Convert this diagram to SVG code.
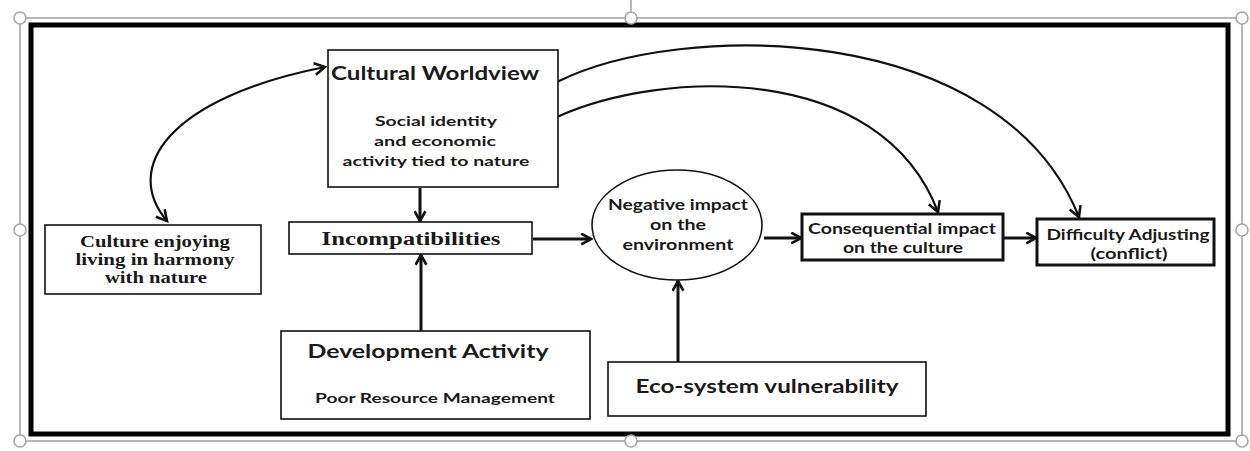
<svg xmlns="http://www.w3.org/2000/svg" width="1250" height="451" viewBox="0 0 1250 451">
<style>
.box{fill:#fff;stroke:#111;stroke-width:1.6}
.boxb{fill:#fff;stroke:#111;stroke-width:3}
.sans{font-family:Lato,"Open Sans","DejaVu Sans",sans-serif;font-weight:bold;fill:#1a1a1a;text-anchor:middle}
.serif{font-family:"Liberation Serif","DejaVu Serif",serif;font-weight:bold;fill:#1a1a1a;text-anchor:middle}
.arr{fill:none;stroke:#111;stroke-width:3}
.crv{fill:none;stroke:#111;stroke-width:2.2}
.handle{fill:#fff;stroke:#a6a6a6;stroke-width:1.6}
</style>
<defs>
<marker id="ah" viewBox="0 0 12 12" refX="10" refY="6" markerWidth="13" markerHeight="13" markerUnits="userSpaceOnUse" orient="auto-start-reverse">
<path d="M1,1 L10,6 L1,11" fill="none" stroke="#111" stroke-width="2.4"/>
</marker>
<marker id="ahc" viewBox="0 0 12 12" refX="10" refY="6" markerWidth="14" markerHeight="14" markerUnits="userSpaceOnUse" orient="auto-start-reverse">
<path d="M1,1 L10,6 L1,11" fill="none" stroke="#111" stroke-width="2.2"/>
</marker>
</defs>
<rect width="1250" height="451" fill="#fff"/>
<g id="frame">
<rect x="20" y="18" width="1222" height="423" fill="none" stroke="#a6a6a6" stroke-width="1.6"/>
<line x1="631" y1="0" x2="631" y2="12" stroke="#a6a6a6" stroke-width="1.6"/>
<rect x="31" y="25" width="1197" height="409" fill="none" stroke="#000" stroke-width="5"/>
<circle class="handle" cx="20" cy="18" r="6"/>
<circle class="handle" cx="631" cy="18" r="6"/>
<circle class="handle" cx="1242" cy="18" r="6"/>
<circle class="handle" cx="20" cy="230" r="6"/>
<circle class="handle" cx="1242" cy="230" r="6"/>
<circle class="handle" cx="20" cy="441" r="6"/>
<circle class="handle" cx="631" cy="441" r="6"/>
<circle class="handle" cx="1242" cy="441" r="6"/>
</g>
<g id="connectors">
<path class="crv" d="M167,221 C122,168 168,98 325,67" marker-start="url(#ahc)" marker-end="url(#ahc)"/>
<path class="crv" d="M557,82 C680,20 1000,20 1079,217" marker-end="url(#ahc)"/>
<path class="crv" d="M557,117 C660,70 880,60 938,212" marker-end="url(#ahc)"/>
<line class="arr" x1="420" y1="188" x2="420" y2="221" marker-end="url(#ah)"/>
<line class="arr" x1="421" y1="331" x2="421" y2="255" marker-end="url(#ah)"/>
<line class="arr" x1="533" y1="239" x2="591" y2="239" marker-end="url(#ah)"/>
<line class="arr" x1="678" y1="362" x2="678" y2="281" marker-end="url(#ah)"/>
<line class="arr" x1="764" y1="238" x2="801" y2="238" marker-end="url(#ah)"/>
<line class="arr" x1="1004" y1="238" x2="1036" y2="238" marker-end="url(#ah)"/>
</g>
<g id="cultural-worldview">
<rect class="box" x="328" y="50" width="230" height="137"/>
<text class="sans" x="435" y="80" font-size="18" textLength="208" lengthAdjust="spacingAndGlyphs">Cultural Worldview</text>
<text class="sans" x="436" y="126" font-size="14" textLength="122" lengthAdjust="spacingAndGlyphs">Social identity</text>
<text class="sans" x="435" y="146" font-size="14" textLength="122" lengthAdjust="spacingAndGlyphs">and economic</text>
<text class="sans" x="436" y="166" font-size="14" textLength="187" lengthAdjust="spacingAndGlyphs">activity tied to nature</text>
</g>
<g id="culture-enjoying">
<rect class="box" x="45" y="225" width="216" height="69"/>
<text class="serif" x="155" y="247" font-size="17" textLength="150" lengthAdjust="spacingAndGlyphs">Culture enjoying</text>
<text class="serif" x="155" y="265" font-size="17" textLength="159" lengthAdjust="spacingAndGlyphs">living in harmony</text>
<text class="serif" x="156" y="283" font-size="17" textLength="102" lengthAdjust="spacingAndGlyphs">with nature</text>
</g>
<g id="incompatibilities">
<rect class="box" x="289" y="222" width="243" height="32"/>
<text class="serif" x="411" y="245" font-size="19" textLength="179" lengthAdjust="spacingAndGlyphs">Incompatibilities</text>
</g>
<g id="development-activity">
<rect class="box" x="281" y="331" width="309" height="88"/>
<text class="sans" x="428" y="358" font-size="19" textLength="241" lengthAdjust="spacingAndGlyphs">Development Activity</text>
<text class="sans" x="435" y="403" font-size="14" textLength="240" lengthAdjust="spacingAndGlyphs">Poor Resource Management</text>
</g>
<g id="negative-impact">
<ellipse class="box" cx="677" cy="225" rx="85" ry="55"/>
<text class="sans" x="678" y="210" font-size="15" textLength="140" lengthAdjust="spacingAndGlyphs">Negative impact</text>
<text class="sans" x="678" y="230" font-size="15" textLength="56" lengthAdjust="spacingAndGlyphs">on the</text>
<text class="sans" x="678" y="250" font-size="15" textLength="111" lengthAdjust="spacingAndGlyphs">environment</text>
</g>
<g id="eco-system">
<rect class="box" x="608" y="362" width="318" height="54"/>
<text class="sans" x="767" y="393" font-size="19" textLength="263" lengthAdjust="spacingAndGlyphs">Eco-system vulnerability</text>
</g>
<g id="consequential-impact">
<rect class="boxb" x="802" y="214" width="201" height="46"/>
<text class="sans" x="902" y="234" font-size="15" textLength="188" lengthAdjust="spacingAndGlyphs">Consequential impact</text>
<text class="sans" x="903" y="253" font-size="15" textLength="120" lengthAdjust="spacingAndGlyphs">on the culture</text>
</g>
<g id="difficulty-adjusting">
<rect class="boxb" x="1037" y="219" width="177" height="46"/>
<text class="sans" x="1128" y="240" font-size="15" textLength="163" lengthAdjust="spacingAndGlyphs">Difficulty Adjusting</text>
<text class="sans" x="1129" y="259" font-size="15" textLength="77" lengthAdjust="spacingAndGlyphs">(conflict)</text>
</g>
</svg>
